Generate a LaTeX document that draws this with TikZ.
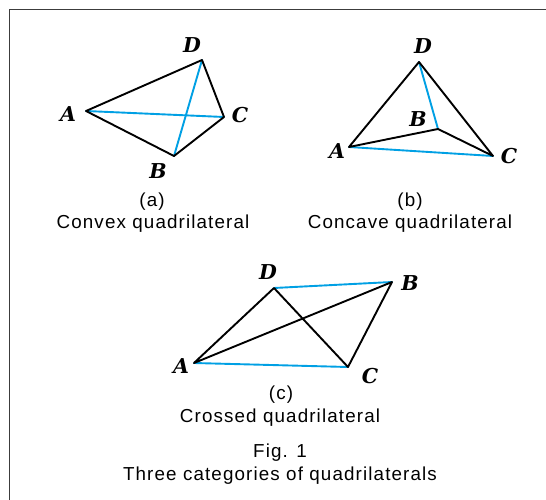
\documentclass[tikz,border=0pt]{standalone}
\usepackage{fontspec}
\setmainfont{Liberation Serif}
\newfontfamily\labfont{DejaVu Serif}
\newfontfamily\capfont[LetterSpace=6]{Liberation Sans}
\definecolor{qblue}{RGB}{0,160,228}
\definecolor{framegray}{RGB}{60,60,60}
\begin{document}
\begin{tikzpicture}[x=1pt,y=-1pt,
  edge/.style={line width=1.9pt,black,line join=round,line cap=round},
  diag/.style={line width=1.9pt,qblue,line cap=round},
  vlabel/.style={inner sep=0pt,font=\labfont\bfseries\itshape\fontsize{20.5}{20.5}\selectfont},
  caption/.style={inner sep=0pt,font=\capfont\fontsize{18.8}{18.8}\selectfont},
  framestyle/.style={line width=1.4pt,framegray}]
\useasboundingbox (0,0) rectangle (546,500);
\fill[white] (0,0) rectangle (546,500);
% frame
\coordinate (f1) at (546,9.7);
\coordinate (f2) at (9.7,9.7);
\coordinate (f3) at (9.7,500);
\draw[framestyle] (f1) -- (f2) -- (f3);

% (a) convex
\coordinate (aA) at (86,111);
\coordinate (aD) at (202,60);
\coordinate (aC) at (224,117);
\coordinate (aB) at (174,156);
\draw[diag] (aA) -- (aC);
\draw[diag] (aB) -- (aD);
\draw[edge] (aA) -- (aD) -- (aC) -- (aB) -- cycle;
\node[vlabel] (laA) at (68,114) {A};
\node[vlabel] (laD) at (192,45) {D};
\node[vlabel] (laC) at (240,115) {C};
\node[vlabel] (laB) at (158,171) {B};
\node[caption] (capa1) at (152,202) {(a)};
\node[caption] (capa2) at (153,224) {Convex quadrilateral};

% (b) concave
\coordinate (bD) at (419,62);
\coordinate (bB) at (438,129);
\coordinate (bA) at (349,147);
\coordinate (bC) at (493,156);
\draw[diag] (bD) -- (bB);
\draw[diag] (bA) -- (bC);
\draw[edge] (bA) -- (bD) -- (bC) -- (bB) -- cycle;
\node[vlabel] (lbD) at (423,46) {D};
\node[vlabel] (lbB) at (418,119) {B};
\node[vlabel] (lbA) at (337,151) {A};
\node[vlabel] (lbC) at (509,156) {C};
\node[caption] (capb1) at (410,202) {(b)};
\node[caption] (capb2) at (410,224) {Concave quadrilateral};

% (c) crossed
\coordinate (cD) at (274,288);
\coordinate (cB) at (392,282);
\coordinate (cA) at (194,363);
\coordinate (cC) at (348,367);
\draw[diag] (cD) -- (cB);
\draw[diag] (cA) -- (cC);
\draw[edge] (cA) -- (cD) -- (cC) -- (cB) -- cycle;
\node[vlabel] (lcD) at (268,272) {D};
\node[vlabel] (lcB) at (410,283) {B};
\node[vlabel] (lcA) at (181,366) {A};
\node[vlabel] (lcC) at (370,376) {C};
\node[caption] (capc1) at (281,395) {(c)};
\node[caption] (capc2) at (280,418) {Crossed quadrilateral};

\node[caption] (fig1) at (280,453) {Fig. 1};
\node[caption] (fig2) at (280,476) {Three categories of quadrilaterals};
\end{tikzpicture}
\end{document}
